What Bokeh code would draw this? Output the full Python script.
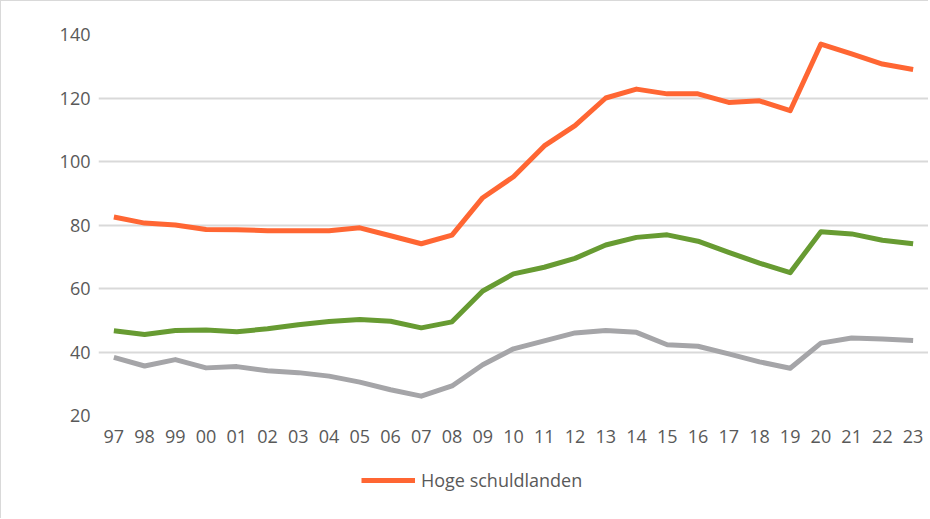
from bokeh.plotting import figure
from bokeh.layouts import column
from bokeh.models import Legend, LegendItem, FixedTicker, Range1d, FactorRange
from bokeh.embed import file_html
from bokeh.resources import INLINE

years = ["97", "98", "99", "00", "01", "02", "03", "04", "05", "06", "07", "08", "09",
         "10", "11", "12", "13", "14", "15", "16", "17", "18", "19", "20", "21", "22", "23"]

hoge = [82.5, 80.6, 80.0, 78.6, 78.5, 78.2, 78.2, 78.2, 79.1, 76.6, 74.1, 76.8, 88.6,
        95.2, 104.9, 111.3, 120.0, 122.8, 121.3, 121.3, 118.6, 119.1, 116.0, 137.0,
        133.9, 130.7, 129.0]
midden = [46.7, 45.5, 46.8, 46.9, 46.4, 47.3, 48.6, 49.6, 50.2, 49.7, 47.6, 49.5, 59.2,
          64.6, 66.7, 69.5, 73.7, 76.1, 76.9, 74.9, 71.4, 68.0, 65.0, 77.9, 77.2, 75.2, 74.1]
laag = [38.3, 35.6, 37.6, 35.0, 35.4, 34.1, 33.5, 32.4, 30.5, 28.1, 26.1, 29.3, 36.0,
        41.0, 43.5, 46.0, 46.8, 46.2, 42.3, 41.8, 39.4, 36.9, 34.9, 42.8, 44.4, 44.1, 43.6]

y_ticks = [20, 40, 60, 80, 100, 120, 140]
legend_label = "Hoge schuldlanden"

ORANGE, GREEN, GREY = "#ff6633", "#679b32", "#a5a5a8"
font = "Open Sans"

p = figure(width=928, height=455, output_backend="svg", toolbar_location=None,
           x_range=FactorRange(*years, range_padding=0), y_range=Range1d(20, 140),
           min_border_left=97, min_border_right=1, min_border_top=33, min_border_bottom=41)
p.styles = {"border-left": "1px solid #d9d9d9", "border-top": "1px solid #d9d9d9"}
p.outline_line_color = None
p.background_fill_color = "white"
p.border_fill_color = "white"

for ax in (p.xaxis[0], p.yaxis[0]):
    ax.axis_line_color = None
    ax.major_tick_line_color = None
    ax.minor_tick_line_color = None
    ax.major_label_text_font = font
    ax.major_label_text_font_size = "18px"
    ax.major_label_text_color = "#595959"
p.yaxis[0].ticker = FixedTicker(ticks=y_ticks)
p.yaxis[0].major_label_standoff = 2
p.xaxis[0].major_label_standoff = 8
p.xgrid.grid_line_color = None
p.ygrid.grid_line_color = "#d9d9d9"
p.ygrid.grid_line_width = 2
p.ygrid.ticker = FixedTicker(ticks=y_ticks)

p.line(years, laag, line_color=GREY, line_width=5, line_join="round")
p.line(years, midden, line_color=GREEN, line_width=5, line_join="round")
p.line(years, hoge, line_color=ORANGE, line_width=5, line_join="round")

# Legend strip below the chart (only the orange series is named)
p2 = figure(width=928, height=63, output_backend="svg", toolbar_location=None,
            x_range=FactorRange(*years, range_padding=0), y_range=Range1d(1000, 1001),
            x_axis_type=None, y_axis_type=None,
            min_border_left=0, min_border_right=0, min_border_top=0, min_border_bottom=0)
p2.styles = {"border-left": "1px solid #d9d9d9"}
p2.outline_line_color = None
p2.grid.grid_line_color = None
p2.background_fill_color = "white"
p2.border_fill_color = "white"
r_leg = p2.line(years, hoge, line_color=ORANGE, line_width=5)

legend = Legend(items=[LegendItem(label=legend_label, renderers=[r_leg])],
                location=(263, 26), orientation="horizontal",
                glyph_width=54, glyph_height=20, label_standoff=6,
                label_text_font=font, label_text_font_size="18px",
                label_text_color="#595959", padding=0, margin=0,
                border_line_color=None, background_fill_alpha=0)
p2.add_layout(legend, "center")

layout = column(p, p2, spacing=0)
open("out.html", "w").write(file_html(layout, INLINE))
